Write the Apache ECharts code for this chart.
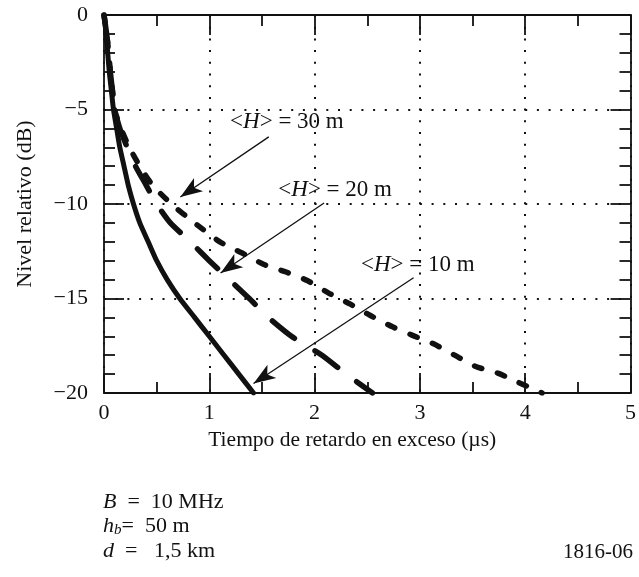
<!DOCTYPE html>
<html>
<head>
<meta charset="utf-8">
<script src="https://cdn.jsdelivr.net/npm/echarts@6/dist/echarts.min.js"></script>
<style>
  html, body { margin: 0; padding: 0; background: #fff; }
  #chart { width: 639px; height: 577px; }
</style>
</head>
<body>
<div id="chart"></div>
<script>
  // axis ticks
  const xTicks = [0, 1, 2, 3, 4, 5]
  const yTicks = [0, -5, -10, -15, -20]

  // curves [delay (us), level (dB)]
  const curve10m = [[0, 0], [0.02, -1], [0.035, -2], [0.05, -3], [0.07, -4], [0.09, -5], [0.12, -6], [0.15, -7],
    [0.19, -8], [0.23, -9], [0.28, -10], [0.34, -11], [0.42, -12], [0.5, -13], [0.6, -14], [0.72, -15],
    [0.86, -16], [1.0, -17], [1.14, -18], [1.28, -19], [1.42, -20]]
  const curve20m = [[0, 0], [0.025, -1], [0.045, -2], [0.06, -3], [0.08, -4], [0.1, -5], [0.15, -6], [0.22, -7],
    [0.3, -8], [0.4, -9], [0.5, -10], [0.63, -11], [0.82, -12], [1.0, -13], [1.19, -14], [1.38, -15],
    [1.56, -16], [1.78, -17], [2.07, -18], [2.3, -19], [2.55, -20]]
  const curve30m = [[0, 0], [0.025, -1], [0.045, -2], [0.06, -3], [0.08, -4], [0.1, -5], [0.16, -6], [0.24, -7],
    [0.34, -8], [0.46, -9], [0.64, -10], [0.86, -11], [1.1, -12], [1.33, -12.65], [1.52, -13.2], [1.73, -13.6],
    [1.93, -14.05], [2.13, -14.7], [2.34, -15.3], [2.53, -15.9], [2.74, -16.5], [2.93, -16.95], [3.13, -17.4],
    [3.33, -18], [3.53, -18.6], [3.74, -18.95], [3.94, -19.45], [4.16, -20]]

  // annotations: label text, label centre, arrow start, arrow tip
  const heights = ['10', '20', '30']
  const labelAt = [[2.98, -13.23], [2.195, -9.26], [1.737, -5.66]]
  const arrowFrom = [[2.94, -13.9], [2.09, -9.95], [1.565, -6.45]]
  const arrowTo = [[1.42, -19.5], [1.107, -13.65], [0.725, -9.63]]

  const serif = '"Liberation Serif", "DejaVu Serif", serif'
  const ink = '#111'
  const fs = 22

  const minus = v => (v < 0 ? '\u2212' + Math.abs(v) : String(v))

  function axisBase(showLabel) {
    return {
      axisLine: { show: true, onZero: false, lineStyle: { color: ink, width: 1.8 } },
      axisTick: { show: true, inside: true, length: 20, lineStyle: { color: ink, width: 1.8 } },
      axisLabel: { show: showLabel, fontFamily: serif, fontSize: fs, color: ink, formatter: minus, margin: 9 },
      splitLine: { show: false }
    }
  }

  function markFor(i) {
    return {
      silent: true,
      symbol: ['none', 'arrow'],
      symbolSize: [0, 14],
      label: { show: false },
      lineStyle: { color: ink, width: 1.3, type: 'solid' },
      emphasis: { disabled: true },
      data: [[{ coord: arrowFrom[i] }, { coord: arrowTo[i], symbol: 'arrow', symbolSize: [12, 22] }]]
    }
  }

  function pointFor(i) {
    return {
      silent: true,
      symbol: 'rect',
      symbolSize: 0,
      label: {
        show: true,
        position: 'inside',
        formatter: '{n|<}{i|H}{n|> = ' + heights[i] + ' m}',
        rich: {
          n: { fontFamily: serif, fontSize: 23, color: ink },
          i: { fontFamily: serif, fontSize: 23, fontStyle: 'italic', color: ink }
        }
      },
      data: [{ coord: labelAt[i] }]
    }
  }

  function curve(name, data, width, dash, idx) {
    return {
      name: name,
      type: 'line',
      data: data,
      smooth: 0.2,
      symbol: 'none',
      lineStyle: { color: ink, width: width, type: dash, cap: 'round', join: 'round' },
      markLine: markFor(idx),
      markPoint: pointFor(idx),
      z: 3
    }
  }

  const dotted = { color: ink, width: 2, type: [2, 9.7] }
  const minor = (n) => ({ show: true, splitNumber: n, length: 11, lineStyle: { color: ink, width: 1.8 } })

  const chart = echarts.init(document.getElementById('chart'))
  chart.setOption({
    animation: false,
    backgroundColor: '#fff',
    grid: { left: 104, right: 6, top: 15, bottom: 184 },
    xAxis: [
      Object.assign(axisBase(true), {
        type: 'value', position: 'bottom',
        min: xTicks[0], max: xTicks[xTicks.length - 1], interval: 1,
        minorTick: minor(2),
        splitLine: { show: true, lineStyle: dotted },
        name: 'Tiempo de retardo en exceso (\u00b5s)',
        nameLocation: 'middle',
        nameGap: 35,
        nameTextStyle: { fontFamily: serif, fontSize: 21.5, color: ink, padding: [0, 30, 0, 0] }
      }),
      Object.assign(axisBase(false), {
        type: 'value', position: 'top',
        min: xTicks[0], max: xTicks[xTicks.length - 1], interval: 1,
        minorTick: minor(2)
      })
    ],
    yAxis: [
      Object.assign(axisBase(true), {
        type: 'value', position: 'left',
        min: yTicks[yTicks.length - 1], max: yTicks[0], interval: 5,
        minorTick: minor(5),
        splitLine: { show: true, lineStyle: dotted },
        axisLabel: { fontFamily: serif, fontSize: fs, color: ink, formatter: minus, margin: 16 },
        name: 'Nivel relativo (dB)',
        nameLocation: 'middle',
        nameGap: 68,
        nameTextStyle: { fontFamily: serif, fontSize: 22, color: ink }
      }),
      Object.assign(axisBase(false), {
        type: 'value', position: 'right',
        min: yTicks[yTicks.length - 1], max: yTicks[0], interval: 5,
        minorTick: minor(5)
      })
    ],
    series: [
      curve('<H> = 10 m', curve10m, 5, 'solid', 0),
      curve('<H> = 20 m', curve20m, 5.5, [28, 24], 1),
      curve('<H> = 30 m', curve30m, 5.5, [8, 16], 2)
    ],
    graphic: [
      {
        type: 'text', left: 103, top: 491,
        style: {
          text: '{i|B}  =  10 MHz', fontFamily: serif, fontSize: fs, fill: ink,
          rich: { i: { fontFamily: serif, fontSize: fs, fontStyle: 'italic' } }
        }
      },
      {
        type: 'text', left: 103, top: 515,
        style: {
          text: '{i|h}{s|b}=  50 m', fontFamily: serif, fontSize: fs, fill: ink,
          rich: {
            i: { fontFamily: serif, fontSize: fs, fontStyle: 'italic' },
            s: { fontFamily: serif, fontSize: 15, fontStyle: 'italic', verticalAlign: 'bottom', padding: [8, 0, 0, 0] }
          }
        }
      },
      {
        type: 'text', left: 103, top: 540,
        style: {
          text: '{i|d}  =   1,5 km', fontFamily: serif, fontSize: fs, fill: ink,
          rich: { i: { fontFamily: serif, fontSize: fs, fontStyle: 'italic' } }
        }
      },
      {
        type: 'text', left: 563, top: 542,
        style: { text: '1816-06', fontFamily: serif, fontSize: 21, fill: ink }
      }
    ]
  })
</script>
</body>
</html>
